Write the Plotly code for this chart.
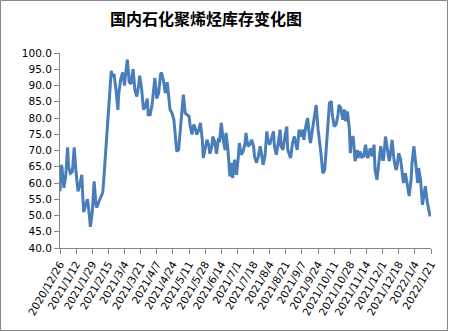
import pandas as pd
import plotly.graph_objects as go

# Domestic petrochemical polyolefin inventory (10k tonnes)
start_date = "2020-12-26"
# observation dates, as days after start_date
day_offsets = [
    0, 1, 2, 4, 6, 8, 9, 11, 13, 15, 17, 19, 21, 23, 24, 25, 27, 29, 31, 32,
    34, 36, 38, 39, 41, 43, 45, 46, 54, 55, 57, 59, 61, 62, 64, 66, 68, 69, 71, 73,
    75, 76, 77, 79, 81, 83, 84, 86, 88, 90, 92, 93, 95, 97, 99, 100, 102, 104, 106, 107,
    109, 111, 113, 114, 116, 118, 120, 121, 123, 125, 127, 128, 130, 132, 134, 136, 137, 139, 141, 143,
    144, 146, 148, 150, 151, 153, 155, 157, 158, 160, 161, 163, 165, 167, 168, 170, 172, 174, 175, 177,
    179, 181, 182, 184, 186, 188, 189, 191, 193, 195, 196, 198, 200, 202, 204, 205, 207, 209, 211, 212,
    214, 216, 218, 219, 221, 223, 225, 226, 228, 230, 232, 233, 235, 237, 239, 240, 242, 243, 245, 247,
    249, 250, 252, 254, 256, 257, 259, 261, 263, 264, 266, 268, 270, 272, 273, 275, 277, 279, 284, 286,
    287, 289, 291, 293, 294, 296, 298, 300, 301, 303, 305, 306, 307, 309, 311, 313, 314, 316, 318, 320,
    322, 324, 325, 327, 329, 331, 332, 334, 336, 338, 340, 341, 343, 345, 347, 348, 350, 352, 354, 355,
    357, 359, 361, 362, 364, 366, 368, 370, 371, 373, 375, 377, 378, 380, 382, 384, 385, 387, 389, 390,
]
inventory = [
    57.5, 65.5, 65.0, 58.5, 62.0, 71.0, 65.0, 63.0, 63.5, 71.0, 63.0, 57.4, 59.5, 62.5, 56.0, 51.0, 53.3, 55.0, 50.0, 46.5,
    51.0, 60.5, 53.0, 52.5, 54.3, 56.0, 57.0, 60.5, 94.5, 93.0, 93.5, 88.7, 82.5, 87.7, 92.0, 94.0, 90.0, 93.0, 98.0, 91.0,
    90.5, 93.0, 95.0, 88.5, 86.6, 90.2, 93.0, 89.0, 82.6, 83.5, 86.0, 81.0, 81.0, 84.0, 89.7, 92.3, 86.0, 87.7, 93.5, 94.0,
    91.5, 87.7, 91.0, 88.2, 82.6, 81.5, 79.5, 76.4, 69.7, 70.2, 77.4, 82.5, 87.2, 81.5, 81.0, 80.5, 78.0, 74.9, 78.0, 76.4,
    74.9, 76.0, 78.5, 73.3, 67.7, 70.2, 73.3, 71.3, 69.0, 71.3, 74.3, 72.8, 69.0, 73.8, 72.5, 78.5, 73.3, 70.2, 75.4, 70.2,
    62.0, 66.2, 61.5, 67.2, 62.5, 68.2, 72.3, 68.7, 69.7, 72.3, 75.4, 71.3, 71.8, 73.3, 71.3, 68.2, 66.2, 68.2, 71.3, 69.7,
    65.6, 68.2, 75.9, 73.3, 71.8, 73.8, 75.9, 71.3, 68.7, 72.3, 76.4, 71.3, 70.2, 74.3, 77.4, 70.2, 68.2, 67.7, 72.3, 74.3,
    71.3, 70.2, 76.4, 74.3, 76.4, 73.3, 77.4, 80.0, 73.8, 72.3, 76.4, 80.5, 84.0, 76.4, 74.3, 69.2, 63.0, 64.0, 84.6, 85.1,
    81.0, 77.4, 78.0, 81.0, 84.0, 83.0, 79.5, 82.6, 79.0, 82.0, 76.4, 69.2, 73.8, 74.3, 66.7, 70.2, 67.7, 69.7, 68.0, 68.2,
    71.8, 67.7, 68.2, 70.7, 68.2, 71.8, 64.1, 61.0, 66.2, 71.3, 67.2, 67.2, 74.3, 70.7, 66.7, 68.2, 73.3, 67.2, 64.1, 64.6,
    69.2, 67.2, 63.0, 60.0, 63.0, 59.5, 56.0, 61.0, 66.2, 71.3, 65.6, 60.0, 64.6, 61.0, 53.3, 57.0, 59.0, 54.3, 51.3, 49.7,
]
tick_labels = [
    "2020/12/26", "2021/1/12", "2021/1/29", "2021/2/15", "2021/3/4", "2021/3/21",
    "2021/4/7", "2021/4/24", "2021/5/11", "2021/5/28", "2021/6/14", "2021/7/1",
    "2021/7/18", "2021/8/4", "2021/8/21", "2021/9/7", "2021/9/24", "2021/10/11",
    "2021/10/28", "2021/11/14", "2021/12/1", "2021/12/18", "2022/1/4", "2022/1/21",
]
title_text = "国内石化聚烯烃库存变化图"

dates = pd.Timestamp(start_date) + pd.to_timedelta(day_offsets, unit="D")
tick_dates = pd.to_datetime(tick_labels, format="%Y/%m/%d")

W, H = 449, 332
ML, MR, MT, MB = 60, 18, 53, 84
PW, PH = W - ML - MR, H - MT - MB


def px_x(px):
    return (px - ML) / PW


def px_y(py):
    return (H - MB - py) / PH


axis_grey = "#868686"
tick_font = dict(family="DejaVu Sans", size=10.5, color="#000000")

fig = go.Figure(
    go.Scatter(
        x=dates,
        y=inventory,
        mode="lines",
        line=dict(color="#4A7EBB", width=3),
        hoverinfo="x+y",
    )
)

fig.update_layout(
    width=W,
    height=H,
    margin=dict(l=ML, r=MR, t=MT, b=MB),
    paper_bgcolor="white",
    plot_bgcolor="white",
    showlegend=False,
    title=dict(
        text="<b>" + title_text + "</b>",
        font=dict(family="Noto Sans CJK SC", size=16, color="#000000"),
        xref="paper",
        x=px_x(206),
        xanchor="center",
        yref="container",
        y=1 - 19.5 / H,
        yanchor="middle",
    ),
    shapes=[
        dict(
            type="rect",
            xref="paper",
            yref="paper",
            x0=px_x(0.5),
            x1=px_x(447.5),
            y0=px_y(330.5),
            y1=px_y(0.5),
            line=dict(color="#898989", width=1),
            fillcolor="rgba(0,0,0,0)",
            layer="below",
        )
    ],
)

fig.update_xaxes(
    range=[tick_dates[0], tick_dates[-1]],
    tickmode="array",
    tickvals=tick_dates,
    ticktext=tick_labels,
    tickangle=-60,
    tickfont=tick_font,
    ticks="outside",
    ticklen=5,
    tickcolor=axis_grey,
    showline=True,
    linecolor=axis_grey,
    linewidth=1,
    showgrid=False,
    zeroline=False,
)

fig.update_yaxes(
    range=[40, 100],
    tickmode="linear",
    tick0=40,
    dtick=5,
    tickformat=".1f",
    tickfont=tick_font,
    ticks="outside",
    ticklen=5,
    tickcolor=axis_grey,
    showline=True,
    linecolor=axis_grey,
    linewidth=1,
    showgrid=False,
    zeroline=False,
)

fig.write_html("out.html")
